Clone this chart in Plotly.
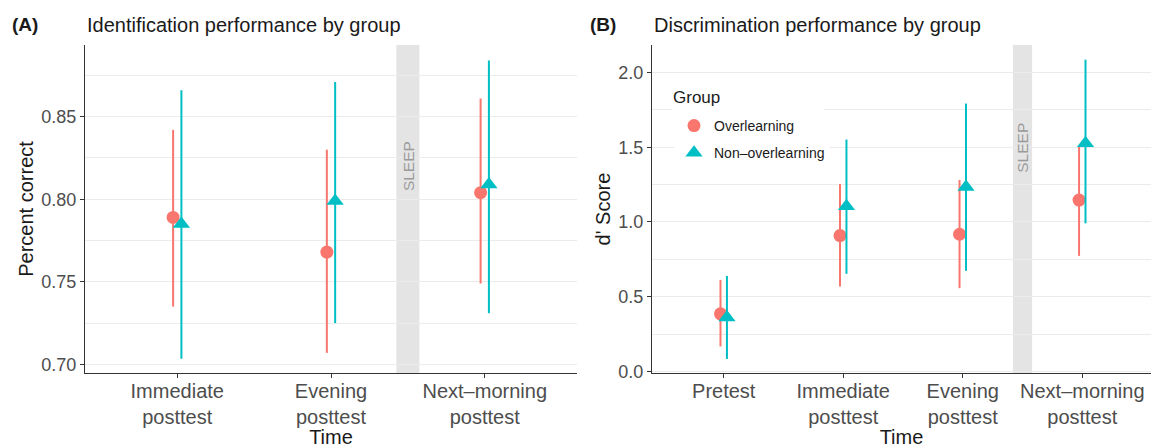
import plotly.graph_objects as go

# ---------------- data ----------------
time_a = ["Immediate<br>posttest", "Evening<br>posttest", "Next–morning<br>posttest"]
time_b = ["Pretest", "Immediate<br>posttest", "Evening<br>posttest", "Next–morning<br>posttest"]
groups = ["Overlearning", "Non–overlearning"]

# Panel A: identification (percent correct)
a_over_mean = [0.789, 0.768, 0.804]
a_over_low = [0.735, 0.707, 0.749]
a_over_high = [0.842, 0.830, 0.861]
a_non_mean = [0.785, 0.799, 0.809]
a_non_low = [0.7035, 0.725, 0.731]
a_non_high = [0.866, 0.871, 0.884]

# Panel B: discrimination (d' score)
b_over_mean = [0.385, 0.909, 0.918, 1.147]
b_over_low = [0.167, 0.568, 0.557, 0.773]
b_over_high = [0.612, 1.254, 1.281, 1.503]
b_non_mean = [0.360, 1.105, 1.235, 1.528]
b_non_low = [0.083, 0.653, 0.673, 0.991]
b_non_high = [0.639, 1.552, 1.793, 2.087]

# ---------------- style ----------------
RED = "#F8766D"
CYAN = "#00BFC4"
FONT = "Liberation Sans, Arial, sans-serif"
GRID = "#ebebeb"
W, H = 1151, 448
DODGE = 0.027

fig = go.Figure()


def add_group(xaxis, yaxis, cats, mean, low, high, color, symbol, size, offset, name, show):
    xs = [i + 1 + offset for i in range(len(cats))]
    fig.add_trace(go.Scatter(
        x=xs, y=mean, mode="markers", name=name, showlegend=show,
        legendgroup=name,
        xaxis=xaxis, yaxis=yaxis,
        marker=dict(color=color, symbol=symbol, size=size, line=dict(width=0)),
        error_y=dict(type="data", symmetric=False,
                     array=[h - m for h, m in zip(high, mean)],
                     arrayminus=[m - l for m, l in zip(mean, low)],
                     color=color, thickness=2, width=0),
        hoverinfo="skip",
    ))


add_group("x", "y", time_a, a_over_mean, a_over_low, a_over_high, RED, "circle", 13, -DODGE, groups[0], False)
add_group("x", "y", time_a, a_non_mean, a_non_low, a_non_high, CYAN, "triangle-up", 15, DODGE, groups[1], False)
add_group("x2", "y2", time_b, b_over_mean, b_over_low, b_over_high, RED, "circle", 13, -DODGE, groups[0], True)
add_group("x2", "y2", time_b, b_non_mean, b_non_low, b_non_high, CYAN, "triangle-up", 15, DODGE, groups[1], True)

ydom = [1 - 373 / H, 1 - 45 / H]

axis_common = dict(
    showline=True, linecolor="#333333", linewidth=1.3, mirror=False,
    ticks="outside", ticklen=4, tickcolor="#333333", tickwidth=1.1,
    zeroline=False, automargin=False,
)
xtick_font = dict(family=FONT, size=20, color="#4d4d4d")
ytick_font = dict(family=FONT, size=18, color="#4d4d4d")
title_font = dict(family=FONT, size=20, color="#1a1a1a")

fig.update_layout(
    width=W, height=H,
    margin=dict(l=0, r=0, t=0, b=0),
    paper_bgcolor="white", plot_bgcolor="white",
    font=dict(family=FONT, color="#1a1a1a"),
    xaxis=dict(domain=[85 / W, 577 / W], range=[0.4, 3.6],
               tickvals=[i + 1 for i in range(len(time_a))], ticktext=time_a,
               showgrid=False, ticklabelstandoff=-4, tickfont=xtick_font,
               title=dict(text="Time", font=title_font, standoff=0),
               anchor="y", **axis_common),
    yaxis=dict(domain=ydom, range=[0.6948, 0.8934],
               tick0=0.70, dtick=0.05, tickformat=".2f", tickfont=ytick_font,
               showgrid=True, gridcolor=GRID, gridwidth=1.1,
               minor=dict(tick0=0.70, dtick=0.025, showgrid=True, gridcolor=GRID, gridwidth=1.1),
               title=dict(text="Percent correct", font=title_font, standoff=2),
               anchor="x", **axis_common),
    xaxis2=dict(domain=[652 / W, 1.0], range=[0.4, 4.575],
                tickvals=[i + 1 for i in range(len(time_b))], ticktext=time_b,
                showgrid=False, ticklabelstandoff=-4, tickfont=xtick_font,
                title=dict(text="Time", font=title_font, standoff=0),
                anchor="y2", **axis_common),
    yaxis2=dict(domain=ydom, range=[-0.011, 2.185],
                tick0=0, dtick=0.5, tickformat=".1f", tickfont=ytick_font,
                showgrid=True, gridcolor=GRID, gridwidth=1.1,
                minor=dict(tick0=0, dtick=0.25, showgrid=True, gridcolor=GRID, gridwidth=1.1),
                title=dict(text="d' Score", font=title_font, standoff=2),
                anchor="x2", **axis_common),
    legend=dict(
        x=674 / W, y=1 - 110 / H, xanchor="left", yanchor="top",
        bgcolor="white", borderwidth=0,
        font=dict(family=FONT, size=14, color="#1a1a1a"),
        traceorder="grouped", tracegroupgap=6,
    ),
)

# legend title (separate so that its spacing matches)
fig.add_annotation(x=672 / W, y=1 - 97 / H, xref="paper", yref="paper",
                   xanchor="left", yanchor="middle", showarrow=False, align="left",
                   text="Group", bgcolor="white", width=150, height=28, borderpad=0,
                   font=dict(family=FONT, size=17, color="#1a1a1a"))

# SLEEP bands
fig.add_shape(type="rect", xref="x", yref="paper", x0=2.425, x1=2.575, y0=ydom[0], y1=ydom[1],
              fillcolor="#e4e4e4", line=dict(width=0), layer="below")
fig.add_shape(type="rect", xref="x2", yref="paper", x0=3.42, x1=3.58, y0=ydom[0], y1=ydom[1],
              fillcolor="#e4e4e4", line=dict(width=0), layer="below")

fig.add_annotation(x=2.5, y=0.820, xref="x", yref="y", text="SLEEP", textangle=-90,
                   showarrow=False, font=dict(family=FONT, size=15.5, color="#9a9a9a"))
fig.add_annotation(x=3.5, y=1.494, xref="x2", yref="y2", text="SLEEP", textangle=-90,
                   showarrow=False, font=dict(family=FONT, size=15.5, color="#9a9a9a"))

# panel labels and titles
for px, txt, bold in [(10, "(A)", True), (85, "Identification performance by group", False),
                      (588, "(B)", True), (652, "Discrimination performance by group", False)]:
    fig.add_annotation(x=px / W, y=1 - 25 / H, xref="paper", yref="paper",
                       xanchor="left", yanchor="middle", showarrow=False,
                       text=f"<b>{txt}</b>" if bold else txt,
                       font=dict(family=FONT, size=19 if bold else 20, color="#1a1a1a"))

fig.write_html("out.html", config={"displayModeBar": False},
               post_script="document.body.style.margin='0';")
